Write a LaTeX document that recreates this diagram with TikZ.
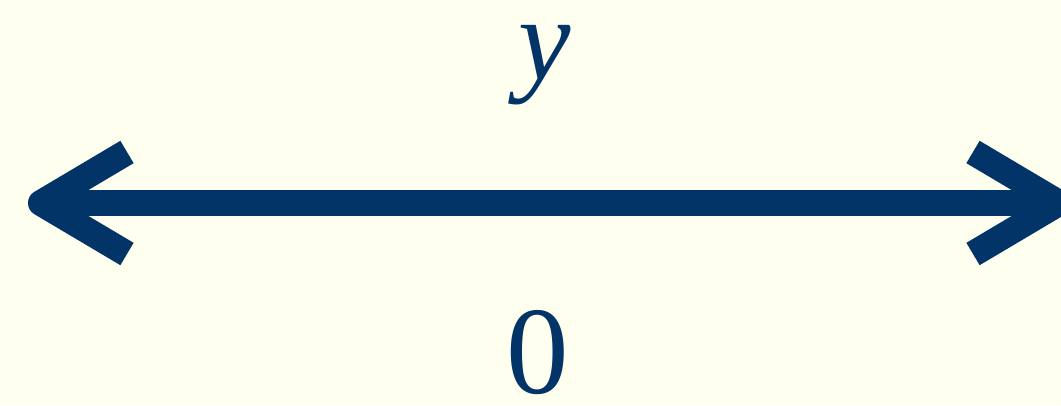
\documentclass[tikz,border=0pt]{standalone}
\usepackage{fontspec}
\setmainfont{Liberation Serif}
\usetikzlibrary{calc}
\definecolor{bgcol}{RGB}{255,255,240}
\definecolor{axiscol}{RGB}{3,52,104}
\tikzset{
  axisline/.style={draw=axiscol, line width=26pt, line cap=butt},
  headline/.style={draw=axiscol, line width=26pt, line cap=butt, line join=round},
  lbl/.style={text=axiscol, inner sep=0pt, anchor=base, font=\fontsize{125}{150}\selectfont}
}
\begin{document}
\begin{tikzpicture}[x=1pt,y=-1pt]
\fill[bgcol] (0,0) rectangle (1061,405);
\useasboundingbox (0,0) rectangle (1061,405);
\clip (0,0) rectangle (1061,405);
\coordinate (L) at (41,203);
\coordinate (R) at (1059,203);
\draw[axisline] (L) -- (R);
\draw[headline] ($(L)+(86,-51)$) -- (L) -- ($(L)+(86,51)$);
\draw[headline] ($(R)+(-86,-51)$) -- (R) -- ($(R)+(-86,51)$);
\node[lbl, font=\fontsize{118}{140}\selectfont] (ylab) at (545,79) {\itshape y};
\node[lbl] (zlab) at (538,393) {0};
\end{tikzpicture}
\end{document}
